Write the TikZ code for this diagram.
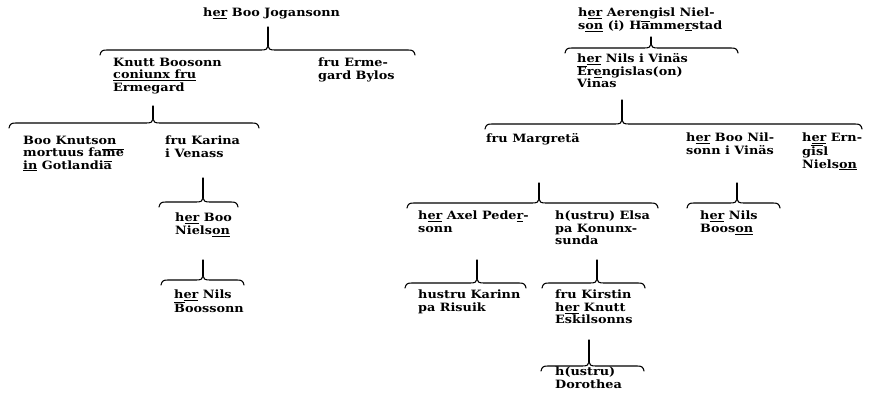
\documentclass[tikz,border=0pt]{standalone}
\usepackage{fontspec}
\setmainfont{DejaVu Serif}[FakeStretch=1.12]
\newcommand\undl[1]{\underline{#1}}
\newcommand\ovl[1]{\ensuremath{\overline{\hbox{#1}}}}
\tikzset{
  lbl/.style={anchor=north west, inner sep=0pt, align=left,
    font=\fontsize{11.5}{12.3}\selectfont\bfseries},
  brc/.style={line width=1.1pt, line cap=round, line join=round}
}
\newcommand\mybrace[5]{% L R C y top
  \draw[brc] (#1,#4+5) .. controls (#1+1,#4+1) and (#1+2,#4) .. (#1+7,#4)
    -- (#3-7,#4) .. controls (#3-2,#4) and (#3,#4-1) .. (#3,#4-4)
    .. controls (#3,#4-1) and (#3+2,#4) .. (#3+7,#4)
    -- (#2-7,#4) .. controls (#2-2,#4) and (#2-1,#4+1) .. (#2,#4+5);
  \draw[brc] (#3,#5) -- (#3,#4-4);
}
\begin{document}
\begin{tikzpicture}[x=1bp,y=-1bp]
\useasboundingbox (0,0) rectangle (869,398);
% left tree
\node[lbl] (t1) at (203,8) {h\undl{er} Boo Jogansonn};
\node[lbl] (t2) at (113,58) {Knutt Boosonn\\\undl{coniunx fru}\\Ermegard};
\node[lbl] (t3) at (318,58) {fru Erme-\\gard Bylos};
\node[lbl] (t4) at (23,136) {Boo Knutson\\mortuus fa\ovl{me}\\\undl{in} Gotlandi\ovl{a}};
\node[lbl] (t5) at (165,136) {fru Karina\\i Venass};
\node[lbl] (t6) at (175,213) {h\undl{er} Boo\\Niels\undl{on}};
\node[lbl] (t7) at (174,290) {h\undl{er} Nils\\\ovl{B}oossonn};
% right tree
\node[lbl] (t8) at (578,8) {h\undl{er} Aerengisl Niel-\\s\undl{on} (i) H\ovl{a}mme\undl{r}stad};
\node[lbl] (t9) at (577,53) {h\undl{er} Nils i Vinäs\\\ovl{E}r\undl{e}ngislas(on)\\Vinas};
\node[lbl] (t10) at (486,133) {fru Margretä};
\node[lbl] (t11) at (686,133) {h\undl{er} Boo Nil-\\sonn i Vinäs};
\node[lbl] (t12) at (802,133) {h\undl{er} Ern-\\g\ovl{is}l\\Niels\undl{on}};
\node[lbl] (t13) at (418,211) {h\undl{er} Axel Pede\undl{r}-\\sonn};
\node[lbl] (t14) at (555,211) {h(ustru) Elsa\\pa Konunx-\\sunda};
\node[lbl] (t15) at (700,211) {h\undl{er} Nils\\Boos\undl{on}};
\node[lbl] (t16) at (418,290) {hustru Karinn\\pa Risuik};
\node[lbl] (t17) at (555,290) {fru Kirstin\\h\undl{er} Knutt\\Eskilsonns};
\node[lbl] (t18) at (555,367) {h(ustru)\\Dorothea};
% braces
\mybrace{100}{415}{268}{50}{27}
\mybrace{9}{259}{153}{123}{106}
\mybrace{159}{238}{203}{202}{178}
\mybrace{161}{244}{203}{280}{260}
\mybrace{565}{738}{651}{48}{37}
\mybrace{485}{862}{622}{124}{100}
\mybrace{407}{658}{539}{203}{183}
\mybrace{687}{780}{737}{203}{183}
\mybrace{405}{526}{477}{283}{260}
\mybrace{542}{645}{597}{283}{260}
\mybrace{541}{644}{589}{366}{340}
\end{tikzpicture}
\end{document}
